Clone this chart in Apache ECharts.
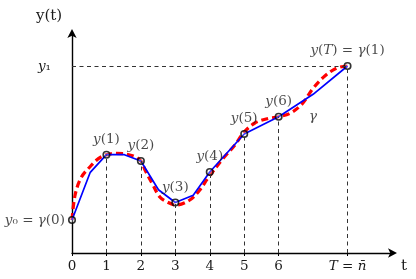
<!DOCTYPE html>
<html>
<head>
<meta charset="utf-8">
<script src="https://cdn.jsdelivr.net/npm/echarts@6/dist/echarts.min.js"></script>
<style>html,body{margin:0;padding:0;background:#fff}#c{width:416px;height:279px}</style>
</head>
<body>
<div id="c"></div>
<script>
// sample points y(k)
const tPoints = [0, 1, 2, 3, 4, 5, 6, 8];
const yPoints = [3.3, 9.83, 9.2, 5.05, 8.1, 11.9, 13.63, 18.7];
const pointLabels = ['y₀ = γ(0)', 'y(1)', 'y(2)', 'y(3)', 'y(4)', 'y(5)', 'y(6)', 'y(T) = γ(1)'];
// piecewise linear path (blue)
const blueT = [0, 0.53, 1, 1.52, 2, 2.51, 3, 3.52, 4, 5, 6, 7, 8];
const blueY = [3.3, 8.07, 9.83, 9.83, 9.2, 6.32, 5.05, 5.77, 8.1, 11.9, 13.63, 15.87, 18.7];
// smooth curve gamma (red dashed)
const redT = [0, 0.09, 0.26, 0.49, 0.84, 1.28, 1.76, 2.0, 2.12, 2.35, 2.55, 2.76, 3.02, 3.42, 3.71, 3.95, 4.35, 4.73, 5.0, 5.31, 5.69, 6.0, 6.33, 6.67, 7.0, 7.34, 7.69, 8];
const redY = [3.3, 5.8, 7.5, 8.5, 9.6, 9.97, 9.73, 9.2, 8.3, 6.8, 5.6, 5.1, 4.8, 5.3, 6.3, 7.5, 9.3, 10.8, 12.1, 13.0, 13.45, 13.63, 13.97, 14.87, 16.47, 17.7, 18.5, 18.7];
// axis ticks
const xTicks = [0, 1, 2, 3, 4, 5, 6, 8];
const xTickLabels = ['0', '1', '2', '3', '4', '5', '6', 'T = n̄'];
const yTicks = [18.7];
const yTickLabels = ['y₁'];
const gammaAnchor = [7.0, 13.7];

const serif = '"DejaVu Serif", "Liberation Serif", serif';
const txtColor = '#1a1a1a';
function mathRich(s) {
  return s.split(/([A-Za-zγ]+)/).filter(p => p.length).map(p =>
    /^[A-Za-zγ]+$/.test(p) ? '{i|' + p + '}' : '{n|' + p + '}').join('');
}
const rich = {
  i: {fontFamily: serif, fontStyle: 'italic', fontSize: 13.5, color: txtColor},
  n: {fontFamily: serif, fontStyle: 'normal', fontSize: 13.5, color: txtColor}
};

const dropLines = [];
tPoints.forEach((t, k) => {
  if (t > 0) dropLines.push([{coord: [t, 0]}, {coord: [t, yPoints[k]]}]);
});
dropLines.push([{coord: [0, yPoints[yPoints.length - 1]]}, {coord: [tPoints[tPoints.length - 1], yPoints[yPoints.length - 1]]}]);

const chart = echarts.init(document.getElementById('c'), null, {renderer: 'canvas'});
chart.setOption({
  animation: false,
  title: {text: 'y(t)', left: 31, top: 4, textStyle: {fontFamily: serif, fontWeight: 'normal', fontSize: 15, color: txtColor}},
  grid: {left: 72, right: 23, top: 33, bottom: 26, containLabel: false},
  xAxis: {
    type: 'value', min: 0, max: 9.32,
    splitLine: {show: false},
    axisLine: {onZero: false, lineStyle: {color: '#000', width: 1.4}, symbol: ['none', 'arrow'], symbolSize: [7, 9], symbolOffset: [0, 4]},
    axisTick: {show: true, length: 3, customValues: xTicks, lineStyle: {color: '#000'}},
    axisLabel: {
      customValues: xTicks, margin: 6,
      formatter: v => mathRich(xTickLabels[xTicks.indexOf(v)] || ''), rich: rich
    },
    name: 't', nameLocation: 'end', nameGap: 8,
    nameTextStyle: {fontFamily: serif, fontSize: 15, color: txtColor, verticalAlign: 'top', padding: [6, 0, 0, 0]}
  },
  yAxis: {
    type: 'value', min: 0, max: 22,
    splitLine: {show: false},
    axisLine: {onZero: false, lineStyle: {color: '#000', width: 1.4}, symbol: ['none', 'arrow'], symbolSize: [7, 9], symbolOffset: [0, 4]},
    axisTick: {show: false},
    axisLabel: {
      customValues: yTicks, margin: 21,
      formatter: v => mathRich(yTickLabels[yTicks.indexOf(v)] || ''), rich: rich
    }
  },
  series: [
    {
      type: 'line', data: redT.map((t, i) => [t, redY[i]]), smooth: 0.35, symbol: 'none',
      lineStyle: {color: '#ff0000', width: 3.2, type: [7, 4]}, z: 2,
      markLine: {
        silent: true, symbol: 'none', label: {show: false},
        lineStyle: {color: '#333', width: 1, type: [4, 3.5]},
        data: dropLines
      }
    },
    {
      type: 'line', data: blueT.map((t, i) => [t, blueY[i]]), symbol: 'none',
      lineStyle: {color: '#0000ff', width: 1.7}, z: 3
    },
    {
      type: 'scatter', z: 4,
      data: tPoints.map((t, i) => ({
        value: [t, yPoints[i]],
        label: {
          show: true, position: i === 0 ? 'left' : 'top', distance: i === 0 ? 3 : 4,
          formatter: () => mathRich(pointLabels[i]), rich: rich
        }
      })),
      symbol: 'circle', symbolSize: 6.5,
      itemStyle: {color: 'rgba(255,255,255,0.3)', borderColor: '#000', borderWidth: 1.6}
    },
    {
      type: 'scatter', z: 4, symbolSize: 0, silent: true,
      data: [gammaAnchor],
      label: {show: true, position: 'inside', formatter: () => '{i|γ}', rich: rich}
    }
  ]
});
</script>
</body>
</html>
